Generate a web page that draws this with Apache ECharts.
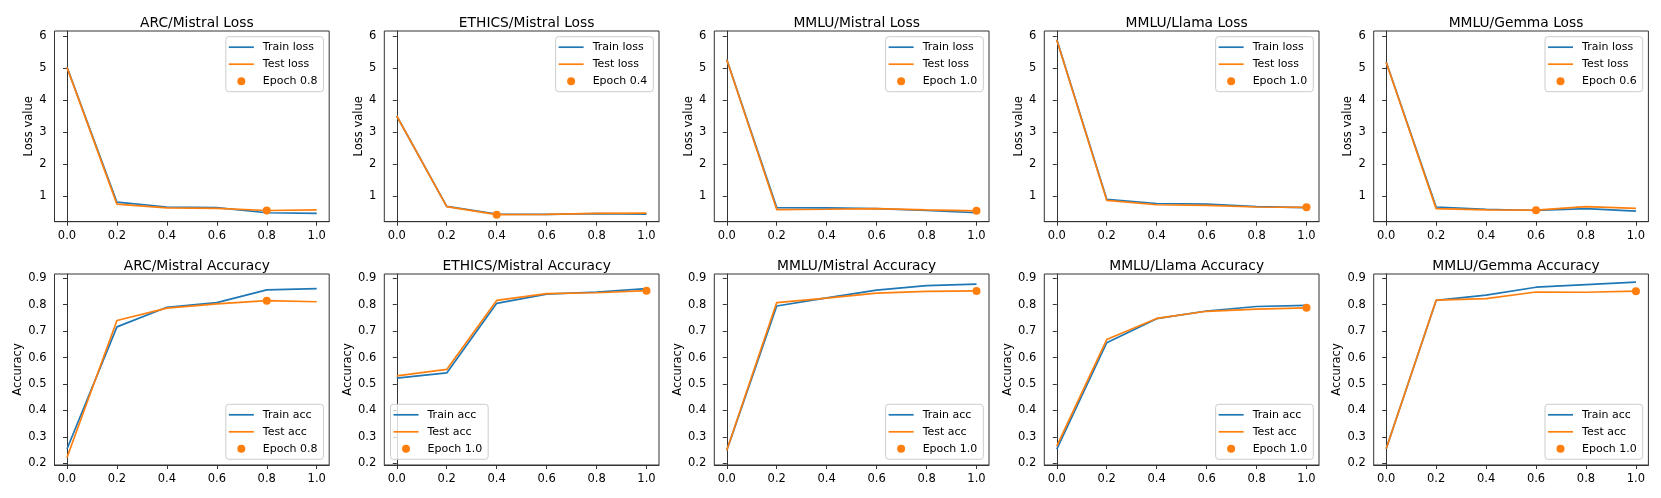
<!DOCTYPE html>
<html>
<head>
<meta charset="utf-8">
<script src="https://cdn.jsdelivr.net/npm/echarts@6/dist/echarts.min.js"></script>
<style>
html,body{margin:0;padding:0;background:#fff;}
#chart{width:1661px;height:498px;}
</style>
</head>
<body>
<div id="chart"></div>
<script>
// ---- data ----
const epochs = [0.0, 0.2, 0.4, 0.6, 0.8, 1.0];
const xTicks = [0.0, 0.2, 0.4, 0.6, 0.8, 1.0];
const lossTicks = [1, 2, 3, 4, 5, 6];
const accTicks = [0.2, 0.3, 0.4, 0.5, 0.6, 0.7, 0.8, 0.9];

const lossTitles = ['ARC/Mistral Loss', 'ETHICS/Mistral Loss', 'MMLU/Mistral Loss', 'MMLU/Llama Loss', 'MMLU/Gemma Loss'];
const accTitles = ['ARC/Mistral Accuracy', 'ETHICS/Mistral Accuracy', 'MMLU/Mistral Accuracy', 'MMLU/Llama Accuracy', 'MMLU/Gemma Accuracy'];

const arcMistralTrainLoss   = [5.03, 0.80, 0.65, 0.63, 0.47, 0.45];
const arcMistralTestLoss    = [5.02, 0.74, 0.62, 0.61, 0.54, 0.56];
const ethicsMistralTrainLoss= [3.50, 0.67, 0.43, 0.42, 0.44, 0.43];
const ethicsMistralTestLoss = [3.50, 0.66, 0.41, 0.42, 0.45, 0.46];
const mmluMistralTrainLoss  = [5.27, 0.63, 0.62, 0.60, 0.54, 0.47];
const mmluMistralTestLoss   = [5.26, 0.57, 0.58, 0.60, 0.56, 0.53];
const mmluLlamaTrainLoss    = [5.89, 0.89, 0.76, 0.74, 0.66, 0.63];
const mmluLlamaTestLoss     = [5.88, 0.86, 0.72, 0.70, 0.65, 0.64];
const mmluGemmaTrainLoss    = [5.19, 0.65, 0.58, 0.54, 0.60, 0.52];
const mmluGemmaTestLoss     = [5.18, 0.60, 0.56, 0.55, 0.66, 0.61];

const arcMistralTrainAcc    = [0.254, 0.716, 0.790, 0.808, 0.856, 0.861];
const arcMistralTestAcc     = [0.222, 0.740, 0.787, 0.803, 0.815, 0.811];
const ethicsMistralTrainAcc = [0.522, 0.542, 0.805, 0.840, 0.848, 0.861];
const ethicsMistralTestAcc  = [0.531, 0.555, 0.816, 0.842, 0.845, 0.853];
const mmluMistralTrainAcc   = [0.249, 0.795, 0.826, 0.855, 0.872, 0.878];
const mmluMistralTestAcc    = [0.249, 0.808, 0.825, 0.844, 0.850, 0.852];
const mmluLlamaTrainAcc     = [0.254, 0.656, 0.747, 0.776, 0.793, 0.797];
const mmluLlamaTestAcc      = [0.265, 0.668, 0.748, 0.775, 0.783, 0.788];
const mmluGemmaTrainAcc     = [0.255, 0.816, 0.836, 0.866, 0.876, 0.885];
const mmluGemmaTestAcc      = [0.255, 0.817, 0.823, 0.848, 0.847, 0.851];

const lossBestEpoch = [0.8, 0.4, 1.0, 1.0, 0.6];
const accBestEpoch  = [0.8, 1.0, 1.0, 1.0, 1.0];

const trainLoss = [arcMistralTrainLoss, ethicsMistralTrainLoss, mmluMistralTrainLoss, mmluLlamaTrainLoss, mmluGemmaTrainLoss];
const testLoss  = [arcMistralTestLoss, ethicsMistralTestLoss, mmluMistralTestLoss, mmluLlamaTestLoss, mmluGemmaTestLoss];
const trainAcc  = [arcMistralTrainAcc, ethicsMistralTrainAcc, mmluMistralTrainAcc, mmluLlamaTrainAcc, mmluGemmaTrainAcc];
const testAcc   = [arcMistralTestAcc, ethicsMistralTestAcc, mmluMistralTestAcc, mmluLlamaTestAcc, mmluGemmaTestAcc];
const accLegendPos = ['lowerRight', 'lowerLeft', 'lowerRight', 'lowerRight', 'lowerRight'];

// ---- layout / style ----
const W = 1661, H = 498;
const colLeft = [54.5, 384.3, 714.3, 1044.3, 1373.7];
const plotW = 274.7;
const rows = [{top: 31, h: 190.7}, {top: 274, h: 191}];
const BLUE = '#1f77b4', ORANGE = '#ff7f0e';
const FONT = 'DejaVu Sans';
const LW = 1.7;
const AXIS_COLOR = '#333';
const LINE_ICON = 'path://M0,0H25V1.7H0Z';

const grid = [], xAxis = [], yAxis = [], series = [], title = [], legend = [];

function pair(xs, ys) { return xs.map((x, i) => [x, ys[i]]); }

function addPanel(r, c, titleText, yName, yMin, yMax, yTicks, yFmt, tr, te, best, trName, teName, legPos, nameGap) {
  const gi = grid.length;
  const left = colLeft[c], top = rows[r].top, h = rows[r].h;
  grid.push({left: left, top: top, width: plotW, height: h, show: true, borderColor: AXIS_COLOR, borderWidth: 1, backgroundColor: 'transparent'});
  xAxis.push({
    type: 'value', gridIndex: gi, min: -0.05, max: 1.05,
    axisLine: {show: true, lineStyle: {color: AXIS_COLOR, width: 1}},
    axisTick: {show: true, length: 4, customValues: xTicks, lineStyle: {color: AXIS_COLOR, width: 1}},
    axisLabel: {customValues: xTicks, formatter: v => v.toFixed(1), color: '#000', fontFamily: FONT, fontSize: 11.5, margin: 8},
    splitLine: {show: false}
  });
  yAxis.push({
    type: 'value', gridIndex: gi, min: yMin, max: yMax,
    name: yName, nameLocation: 'middle', nameGap: nameGap,
    nameTextStyle: {color: '#000', fontFamily: FONT, fontSize: 11.5},
    axisLine: {show: true, lineStyle: {color: AXIS_COLOR, width: 1}},
    axisTick: {show: true, length: 4, customValues: yTicks, lineStyle: {color: AXIS_COLOR, width: 1}},
    axisLabel: {customValues: yTicks, formatter: yFmt, color: '#000', fontFamily: FONT, fontSize: 11.5, margin: 8},
    splitLine: {show: false}
  });
  title.push({
    text: titleText, left: left + plotW / 2, top: top - 20, textAlign: 'center',
    textStyle: {color: '#000', fontFamily: FONT, fontSize: 13.8, fontWeight: 'normal'}
  });
  const bestIdx = epochs.indexOf(best);
  const epochName = 'Epoch ' + best.toFixed(1);
  series.push({type: 'line', name: trName, xAxisIndex: gi, yAxisIndex: gi, data: pair(epochs, tr), symbol: 'none', lineStyle: {color: BLUE, width: LW}, itemStyle: {color: BLUE}, z: 2, animation: false});
  series.push({type: 'line', name: teName, xAxisIndex: gi, yAxisIndex: gi, data: pair(epochs, te), symbol: 'none', lineStyle: {color: ORANGE, width: LW}, itemStyle: {color: ORANGE}, z: 3, animation: false});
  series.push({type: 'scatter', name: epochName, xAxisIndex: gi, yAxisIndex: gi, data: [[best, te[bestIdx]]], symbol: 'circle', symbolSize: 8, itemStyle: {color: ORANGE, opacity: 1}, z: 4, animation: false});

  const leg = {
    data: [{name: trName, icon: LINE_ICON}, {name: teName, icon: LINE_ICON}, {name: epochName, icon: 'circle'}],
    orient: 'vertical', selectedMode: false, symbolKeepAspect: true,
    itemWidth: 25, itemHeight: 8, itemGap: 4,
    padding: [4, 6, 4, 3],
    backgroundColor: 'rgba(255,255,255,0.8)', borderColor: '#cccccc', borderWidth: 1, borderRadius: 3,
    textStyle: {color: '#000', fontFamily: FONT, fontSize: 11, lineHeight: 13, padding: [0, 0, 0, 4]}
  };
  const inset = 5.7;
  if (legPos === 'upperRight') { leg.right = W - (left + plotW - inset); leg.top = top + inset; }
  else if (legPos === 'lowerRight') { leg.right = W - (left + plotW - inset); leg.bottom = H - (top + h - inset); }
  else { leg.left = left + inset + 0.5; leg.bottom = H - (top + h - inset); }
  legend.push(leg);
}

for (let c = 0; c < 5; c++) {
  addPanel(0, c, lossTitles[c], 'Loss value', 0.19, 6.16, lossTicks, v => String(Math.round(v)),
    trainLoss[c], testLoss[c], lossBestEpoch[c], 'Train loss', 'Test loss', 'upperRight', 19);
}
for (let c = 0; c < 5; c++) {
  addPanel(1, c, accTitles[c], 'Accuracy', 0.1936, 0.916, accTicks, v => v.toFixed(1),
    trainAcc[c], testAcc[c], accBestEpoch[c], 'Train acc', 'Test acc', accLegendPos[c], 30);
}

const chart = echarts.init(document.getElementById('chart'), null, {renderer: 'canvas'});
chart.setOption({animation: false, backgroundColor: '#fff', title, grid, xAxis, yAxis, series, legend});
</script>
</body>
</html>
